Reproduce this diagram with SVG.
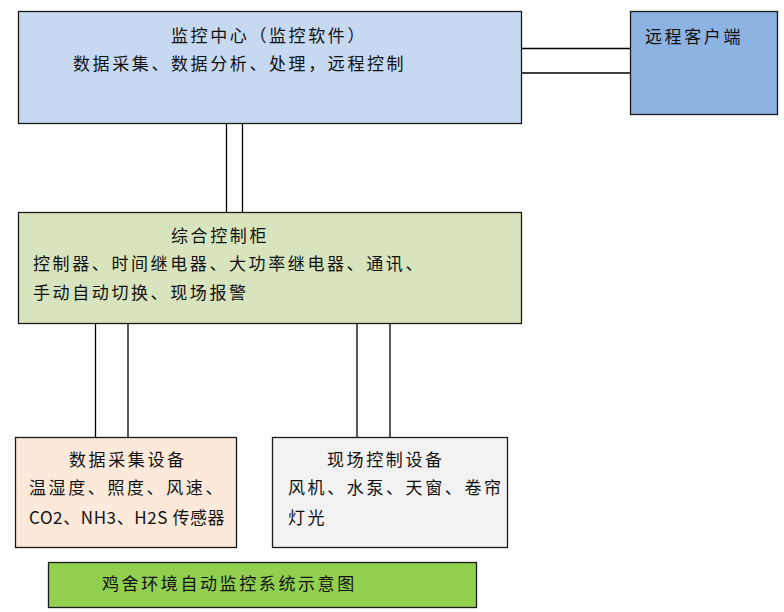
<svg xmlns="http://www.w3.org/2000/svg" width="784" height="612" viewBox="0 0 784 612">
<style>
.box{stroke:#1a1a1a;stroke-width:1.3}
.t{font-family:"Noto Sans CJK SC","Liberation Sans",sans-serif;font-size:17px;letter-spacing:2.6px;fill:#111}
.c line{stroke:#000;stroke-width:1.3}
</style>
<rect width="784" height="612" fill="#fff"/>
<g class="c" id="connectors">
<line x1="521" y1="48.5" x2="630" y2="48.5"/>
<line x1="521" y1="73" x2="630" y2="73"/>
<line x1="226.5" y1="123" x2="226.5" y2="212"/>
<line x1="242.5" y1="123" x2="242.5" y2="212"/>
<line x1="95.5" y1="324" x2="95.5" y2="437"/>
<line x1="128" y1="324" x2="128" y2="437"/>
<line x1="357" y1="324" x2="357" y2="437"/>
<line x1="390" y1="324" x2="390" y2="437"/>
</g>
<g id="monitor-center">
<rect class="box" x="18.5" y="11.5" width="503" height="112" fill="#C6D9F1"/>
<text class="t" x="171" y="42">监控中心（监控软件）</text>
<text class="t" x="73" y="70">数据采集、数据分析、处理，远程控制</text>
</g>
<g id="remote-client">
<rect class="box" x="630.5" y="11.5" width="147" height="103" fill="#8DB3E2"/>
<text class="t" x="645" y="43">远程客户端</text>
</g>
<g id="control-cabinet">
<rect class="box" x="18.5" y="212.5" width="503" height="111" fill="#D7E4BD"/>
<text class="t" x="171" y="242">综合控制柜</text>
<text class="t" x="33" y="270">控制器、时间继电器、大功率继电器、通讯、</text>
<text class="t" x="33" y="299">手动自动切换、现场报警</text>
</g>
<g id="data-acquisition">
<rect class="box" x="15.5" y="437.5" width="221" height="110" fill="#FDE9D9"/>
<text class="t" x="69" y="466">数据采集设备</text>
<text class="t" x="29" y="494">温湿度、照度、风速、</text>
<text class="t" x="29" y="524" style="letter-spacing:0.6px">CO2、NH3、H2S 传感器</text>
</g>
<g id="field-control">
<rect class="box" x="272.5" y="437.5" width="235" height="110" fill="#F2F2F2"/>
<text class="t" x="327" y="466">现场控制设备</text>
<text class="t" x="288" y="494">风机、水泵、天窗、卷帘</text>
<text class="t" x="288" y="524">灯光</text>
</g>
<g id="title">
<rect class="box" x="48.5" y="562.5" width="428" height="45" fill="#92D050"/>
<text class="t" x="102" y="590">鸡舍环境自动监控系统示意图</text>
</g>
</svg>
